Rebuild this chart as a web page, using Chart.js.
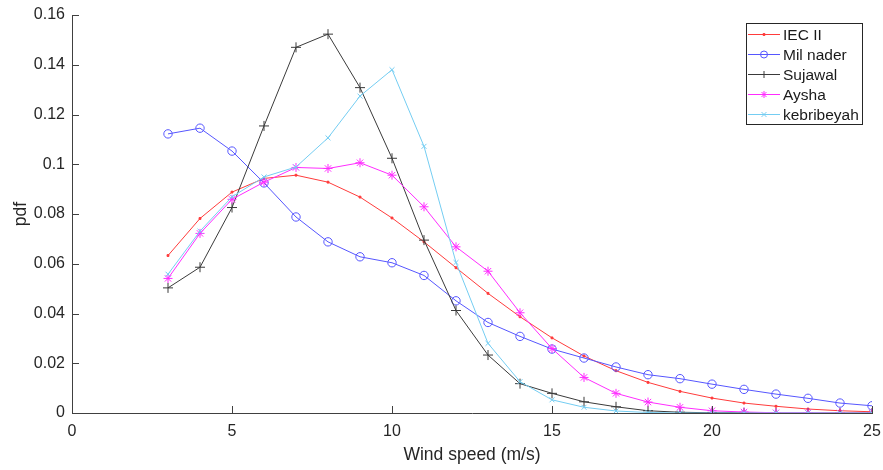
<!DOCTYPE html>
<html>
<head>
<meta charset="utf-8">
<script src="https://cdn.jsdelivr.net/npm/chart.js@4.4.1/dist/chart.umd.min.js"></script>
<style>
  body { margin: 0; background: #fff; }
  #wrap { width: 883px; height: 470px; position: relative; }
</style>
</head>
<body>
<div id="wrap"><canvas id="pdfChart"></canvas></div>
<script>
const speeds = [3,4,5,6,7,8,9,10,11,12,13,14,15,16,17,18,19,20,21,22,23,24,25];
const iecII = [0.0633,0.0782,0.0888,0.0943,0.0956,0.0928,0.0868,0.0784,0.0688,0.0584,0.0481,0.0387,0.0302,0.0229,0.0170,0.0123,0.0087,0.0060,0.0040,0.0027,0.0016,0.0009,0.0005];
const milNader = [0.1122,0.1145,0.1053,0.0925,0.0788,0.0688,0.0628,0.0604,0.0553,0.0451,0.0364,0.0308,0.0257,0.0221,0.0185,0.0154,0.0138,0.0116,0.0095,0.0076,0.0059,0.0040,0.0029];
const sujawal = [0.0503,0.0586,0.0826,0.1154,0.1470,0.1523,0.1308,0.1024,0.0695,0.0412,0.0233,0.0118,0.0079,0.0045,0.0025,0.0009,0.0003,0.0001,0.0001,0,0,0,0];
const aysha = [0.0541,0.0722,0.0859,0.0928,0.0987,0.0983,0.1006,0.0956,0.0829,0.0668,0.0570,0.0403,0.0259,0.0143,0.0079,0.0044,0.0023,0.0009,0.0004,0.0001,0.0001,0,0];
const kebribeyah = [0.0558,0.0731,0.0869,0.0949,0.0989,0.1106,0.1274,0.1380,0.1072,0.0605,0.0280,0.0126,0.0053,0.0023,0.0008,0.0002,0,0,0,0,0,0,0];

const seriesNames = ['IEC II', 'Mil nader', 'Sujawal', 'Aysha', 'kebribeyah'];
const seriesValues = [iecII, milNader, sujawal, aysha, kebribeyah];
const seriesColors = ['#ff3b3b', '#5656ff', '#3a3a3a', '#ff2cff', '#74cdf2'];
const seriesMarkers = ['rect', 'circle', 'cross', 'star', 'crossRot'];
const markerSizes = [1.3, 4.2, 5, 4.5, 3.5];

const FONT = '"Liberation Sans", Arial, sans-serif';
const AXIS = '#404040';

function makeDataset(i) {
    return {
        label: seriesNames[i],
        data: speeds.map((s, k) => ({ x: s, y: seriesValues[i][k] })),
        borderColor: seriesColors[i],
        backgroundColor: i === 0 ? seriesColors[i] : 'rgba(0,0,0,0)',
        borderWidth: 1,
        pointStyle: seriesMarkers[i],
        pointRadius: markerSizes[i],
        pointBorderWidth: 1,
        pointBorderColor: seriesColors[i],
        pointBackgroundColor: i === 0 ? seriesColors[i] : 'rgba(0,0,0,0)',
        tension: 0,
        order: seriesNames.length - i
    };
}

// small tick marks pointing into the plot, like matlab
const innerTicks = {
    id: 'innerTicks',
    afterDatasetsDraw(chart) {
        const ctx = chart.ctx, area = chart.chartArea;
        ctx.save();
        ctx.strokeStyle = AXIS;
        ctx.lineWidth = 1;
        chart.scales.x.ticks.forEach(t => {
            const px = Math.round(chart.scales.x.getPixelForValue(t.value)) + 0.5;
            ctx.beginPath(); ctx.moveTo(px, area.bottom); ctx.lineTo(px, area.bottom - 7); ctx.stroke();
        });
        chart.scales.y.ticks.forEach(t => {
            const py = Math.round(chart.scales.y.getPixelForValue(t.value)) + 0.5;
            ctx.beginPath(); ctx.moveTo(area.left, py); ctx.lineTo(area.left + 7, py); ctx.stroke();
        });
        ctx.restore();
    }
};

// legend box with line + marker samples
const boxLegend = {
    id: 'boxLegend',
    afterDraw(chart) {
        const ctx = chart.ctx, area = chart.chartArea;
        const right = area.right - 10, top = area.top + 8;
        const w = 116, h = 101, left = right - w;
        ctx.save();
        ctx.fillStyle = '#fff';
        ctx.fillRect(left, top, w, h);
        ctx.strokeStyle = '#262626';
        ctx.lineWidth = 1;
        ctx.strokeRect(Math.round(left) + 0.5, Math.round(top) + 0.5, w, h);
        ctx.font = '15.5px ' + FONT;
        ctx.textBaseline = 'middle';
        ctx.textAlign = 'left';
        chart.data.datasets.forEach((ds, i) => {
            const y = top + 11.5 + i * 20;
            ctx.strokeStyle = ds.borderColor;
            ctx.lineWidth = 1;
            ctx.beginPath(); ctx.moveTo(left + 2, y); ctx.lineTo(left + 34, y); ctx.stroke();
            ctx.fillStyle = ds.pointBackgroundColor;
            ctx.strokeStyle = ds.borderColor;
            Chart.helpers.drawPoint(ctx, {
                pointStyle: ds.pointStyle,
                radius: Math.min(ds.pointRadius, 3.5),
                rotation: 0,
                borderWidth: 1
            }, left + 18, y);
            ctx.fillStyle = '#1a1a1a';
            ctx.fillText(ds.label, left + 37, y + 1);
        });
        ctx.restore();
    }
};

new Chart(document.getElementById('pdfChart'), {
    type: 'line',
    data: { datasets: seriesNames.map((n, i) => makeDataset(i)) },
    options: {
        responsive: true,
        maintainAspectRatio: false,
        animation: false,
        layout: { padding: { top: 15, right: 11, left: 0, bottom: 0 } },
        plugins: { legend: { display: false }, tooltip: { enabled: false } },
        scales: {
            x: {
                type: 'linear',
                min: 0, max: 25,
                ticks: { stepSize: 5, color: '#262626', font: { family: FONT, size: 16 }, padding: 9, maxRotation: 0 },
                grid: { display: true, drawOnChartArea: false, drawTicks: false, color: AXIS },
                border: { display: true, color: AXIS },
                title: { display: true, text: 'Wind speed (m/s)', color: '#262626', font: { family: FONT, size: 17.5 }, padding: { top: 0 } },
                afterFit(scale) {
                    scale.height = 57;
                    scale.paddingLeft = 0;
                    scale.paddingRight = 0;
                }
            },
            y: {
                type: 'linear',
                min: 0, max: 0.16,
                ticks: {
                    stepSize: 0.02, color: '#262626', font: { family: FONT, size: 16 }, padding: 7,
                    callback: v => String(Number(v.toFixed(2)))
                },
                grid: { display: true, drawOnChartArea: false, drawTicks: false, color: AXIS },
                border: { display: true, color: AXIS },
                title: { display: true, text: 'pdf', color: '#262626', font: { family: FONT, size: 17.5 }, padding: { top: 11, bottom: 2 } },
                afterFit(scale) {
                    scale.width = 72;
                    scale.paddingTop = 0;
                    scale.paddingBottom = 0;
                }
            }
        }
    },
    plugins: [innerTicks, boxLegend]
});
</script>
</body>
</html>
